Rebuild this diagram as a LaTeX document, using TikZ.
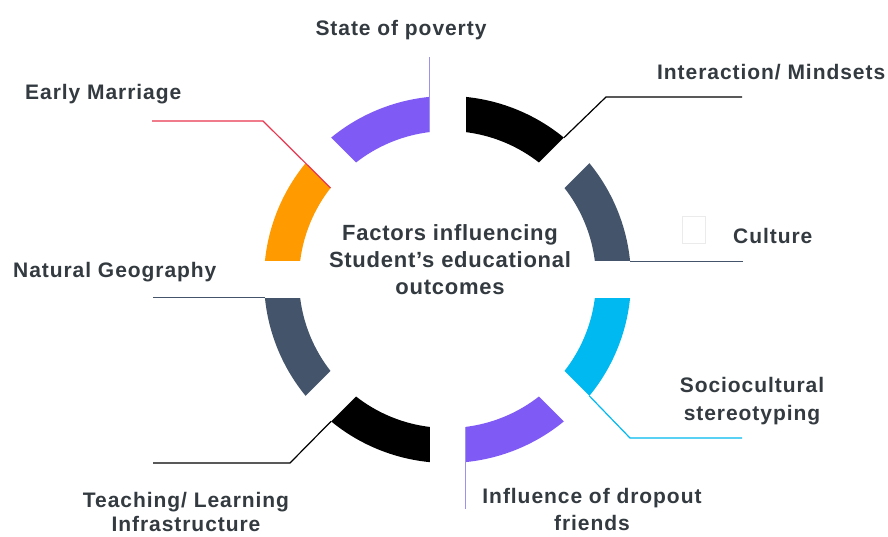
\documentclass[tikz,border=0pt]{standalone}
\usepackage{fontspec}
\setmainfont{Liberation Sans}
\usetikzlibrary{calc}
\definecolor{purp}{HTML}{7F5AF5}
\definecolor{slate}{HTML}{44546A}
\definecolor{cyanc}{HTML}{00B9F1}
\definecolor{orng}{HTML}{FF9A00}
\definecolor{redl}{HTML}{E8364E}
\definecolor{lpurp}{HTML}{9E8FF2}
\definecolor{txt}{HTML}{333A40}
\newfontfamily\lblfont[LetterSpace=4.5]{Liberation Sans}
\newfontfamily\ctrfont[LetterSpace=3.4]{Liberation Sans}
\tikzset{
  lbl/.style={font=\lblfont\bfseries\fontsize{21}{27}\selectfont, text=txt, inner sep=0pt},
  ctr/.style={font=\ctrfont\bfseries\fontsize{22}{27}\selectfont, text=txt, align=center, inner sep=0pt},
  conn/.style={line width=1.2pt},
  gapband/.style={white, line width=36pt}
}
\newcommand{\seg}[3]{%
  \fill[#1] ($(C)+(#2:183.5pt)$) arc[start angle=#2, end angle=#3, radius=183.5pt]
    -- ($(C)+(#3:148.5pt)$) arc[start angle=#3, end angle=#2, radius=148.5pt] -- cycle;}
\begin{document}
\begin{tikzpicture}[x=1pt,y=1pt]
\fill[white] (0,0) rectangle (888,536);
\useasboundingbox (0,0) rectangle (888,536);
\coordinate (C) at (447.5,256.5);
% ring segments
\seg{orng}{135}{180}
\seg{purp}{90}{135}
\seg{black}{45}{90}
\seg{slate}{0}{45}
\seg{cyanc}{-45}{0}
\seg{purp}{-90}{-45}
\seg{black}{-135}{-90}
\seg{slate}{180}{225}
% gaps
\foreach \t in {0,45,90,135}
  \draw[gapband] ($(C)+(\t:192pt)$) -- ($(C)+(\t+180:192pt)$);
% segment corners
\coordinate (povC) at (429.5,403.9);
\coordinate (intC) at (563.9,398.3);
\coordinate (culC) at (630.1,274.5);
\coordinate (socC) at (589.3,140.1);
\coordinate (infC) at (465.5,109.1);
\coordinate (teaC) at (331.1,114.7);
\coordinate (natC) at (264.9,238.5);
\coordinate (earC) at (330.6,348.0);
% connector ends
\coordinate (povE) at (429.5,479);
\coordinate (intB) at (606,439);
\coordinate (intE) at (742,439);
\coordinate (culE) at (743,274.5);
\coordinate (socB) at (630,98);
\coordinate (socE) at (742,98);
\coordinate (infE) at (465.5,27);
\coordinate (teaB) at (290,73);
\coordinate (teaE) at (153,73);
\coordinate (natE) at (153,238.5);
\coordinate (earB) at (263,415);
\coordinate (earE) at (152,415);
% connectors
\draw[conn, lpurp] (povC) -- (povE);
\draw[conn, black] (intC) -- (intB) -- (intE);
\draw[conn, slate] (culC) -- (culE);
\draw[conn, cyanc] (socC) -- (socB) -- (socE);
\draw[conn, lpurp] (infC) -- (infE);
\draw[conn, black] (teaC) -- (teaB) -- (teaE);
\draw[conn, slate] (natC) -- (natE);
\draw[conn, redl] (earC) -- (earB) -- (earE);
% faint box
\draw[black!8, line width=0.8pt] (682,293) rectangle (705,320);
% labels
\node[lbl] (pov) at (401,506) {State of poverty};
\node[lbl, anchor=west] (ear) at (25,442) {Early Marriage};
\node[lbl, anchor=west] (int) at (657,464) {Interaction/ Mindsets};
\node[lbl, anchor=west] (cul) at (733,300) {Culture};
\node[lbl, anchor=west] (nat) at (13,264) {Natural Geography};
\node[lbl, align=center, font=\lblfont\bfseries\fontsize{21}{28}\selectfont] (soc) at (752,135) {Sociocultural\\stereotyping};
\node[lbl, align=center, font=\lblfont\bfseries\fontsize{21}{27}\selectfont] (inf) at (592,26.5) {Influence of dropout\\friends};
\node[lbl, align=center, font=\lblfont\bfseries\fontsize{21}{24}\selectfont] (tea) at (186,24) {Teaching/ Learning\\Infrastructure};
\node[ctr] (center) at (450,276) {Factors influencing\\Student’s educational\\outcomes};
\end{tikzpicture}
\end{document}
